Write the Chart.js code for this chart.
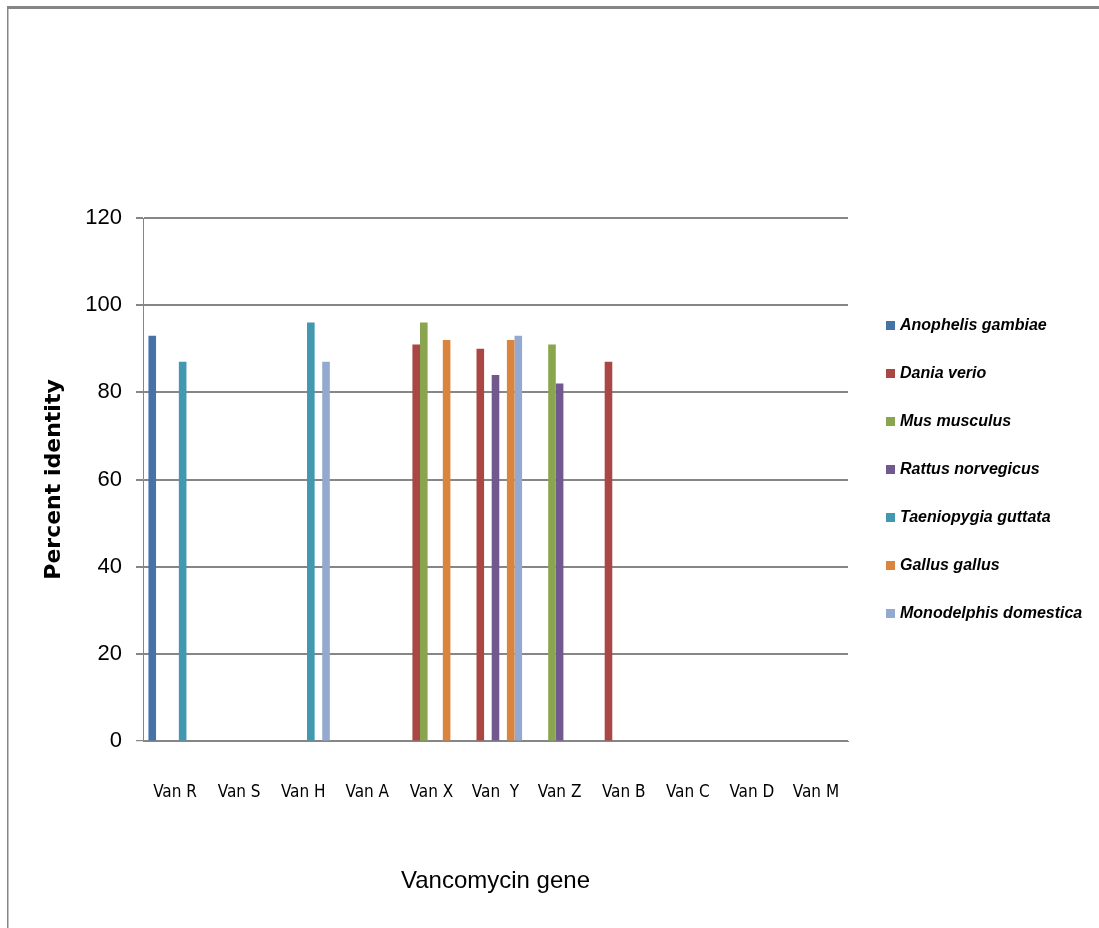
<!DOCTYPE html>
<html>
<head>
<meta charset="utf-8">
<title>Vancomycin gene – percent identity</title>
<script src="https://cdn.jsdelivr.net/npm/chart.js@4/dist/chart.umd.min.js"></script>
<style>
  html, body { margin: 0; padding: 0; background: #ffffff; }
  #wrap { position: relative; width: 1099px; height: 928px; }
  canvas { display: block; }
</style>
</head>
<body>
<div id="wrap"><canvas id="chart" width="1099" height="928"></canvas></div>
<script>
// Genes on the category axis
const genes = ['Van R', 'Van S', 'Van H', 'Van A', 'Van X', 'Van  Y', 'Van Z', 'Van B', 'Van C', 'Van D', 'Van M'];

// Percent identity per organism (null = no hit)
const anophelisGambiae    = [93, null, null, null, null, null, null, null, null, null, null];
const daniaVerio          = [null, null, null, null, 91, 90, null, 87, null, null, null];
const musMusculus         = [null, null, null, null, 96, null, 91, null, null, null, null];
const rattusNorvegicus    = [null, null, null, null, null, 84, 82, null, null, null, null];
const taeniopygiaGuttata  = [87, null, 96, null, null, null, null, null, null, null, null];
const gallusGallus        = [null, null, null, null, 92, 92, null, null, null, null, null];
const monodelphisDomestica= [null, null, 87, null, null, 93, null, null, null, null, null];

const seriesNames = ['Anophelis gambiae', 'Dania verio', 'Mus musculus', 'Rattus norvegicus',
                     'Taeniopygia guttata', 'Gallus gallus', 'Monodelphis domestica'];
const seriesValues = [anophelisGambiae, daniaVerio, musMusculus, rattusNorvegicus,
                      taeniopygiaGuttata, gallusGallus, monodelphisDomestica];
const seriesColors = ['#4572A7', '#AA4643', '#89A54E', '#71588F', '#4198AF', '#DB843D', '#93A9CF'];

// Y axis range
const yMin = 0, yMax = 120, yStep = 20;

const GRID = '#868686';

// Frame around the figure and the legend on the right
const framePlugin = {
  id: 'frame',
  beforeDraw(chart) {
    const ctx = chart.ctx;
    ctx.save();
    ctx.fillStyle = '#ffffff';
    ctx.fillRect(0, 0, chart.width, chart.height);
    ctx.fillStyle = GRID;
    ctx.fillRect(7, 6, chart.width - 7, 3);
    ctx.fillRect(7, 6, 1.5, chart.height - 6);
    ctx.restore();
  }
};

const sideLegend = {
  id: 'sideLegend',
  afterDraw(chart) {
    const ctx = chart.ctx;
    const area = chart.chartArea;
    const x0 = area.right + 38;
    const y0 = area.top + 108;
    const gap = 48;
    ctx.save();
    ctx.font = 'italic bold 16px "Liberation Sans", Arial, sans-serif';
    ctx.textBaseline = 'middle';
    ctx.textAlign = 'left';
    chart.data.datasets.forEach((ds, i) => {
      const y = y0 + i * gap;
      ctx.fillStyle = ds.backgroundColor;
      ctx.fillRect(x0, y - 5, 9, 9);
      ctx.fillStyle = '#000000';
      ctx.fillText(ds.label, x0 + 14, y);
    });
    ctx.restore();
  }
};

const datasets = seriesNames.map((name, i) => ({
  label: name,
  data: seriesValues[i],
  backgroundColor: seriesColors[i],
  borderWidth: 0,
  categoryPercentage: 0.83,
  barPercentage: 1.0
}));

new Chart(document.getElementById('chart'), {
  type: 'bar',
  data: { labels: genes, datasets },
  plugins: [framePlugin, sideLegend],
  options: {
    responsive: false,
    animation: false,
    devicePixelRatio: 1,
    layout: { padding: { left: 37, top: 218, right: 251, bottom: 28 } },
    plugins: {
      legend: { display: false },
      tooltip: { enabled: false }
    },
    scales: {
      x: {
        grid: { display: false, drawTicks: false },
        border: { display: true, color: GRID, width: 1 },
        ticks: {
          color: '#000000',
          padding: 41,
          maxRotation: 0,
          autoSkip: false,
          font: { family: '"Liberation Sans Narrow", "DejaVu Sans Condensed", sans-serif', size: 17 }
        },
        title: {
          display: true,
          text: 'Vancomycin gene',
          color: '#000000',
          padding: { top: 4, bottom: 4 },
          font: { family: '"Liberation Sans", Arial, sans-serif', size: 24 }
        },
        afterFit(scale) { scale.height = 159; }
      },
      y: {
        min: yMin,
        max: yMax,
        ticks: {
          stepSize: yStep,
          color: '#000000',
          padding: 14,
          font: { family: '"Liberation Sans", Arial, sans-serif', size: 22 }
        },
        grid: {
          color: GRID,
          lineWidth: (c) => (c.tick && c.tick.value === 0 ? 1.2 : 2),
          drawTicks: true,
          tickLength: 7
        },
        border: { display: true, color: GRID, width: 1 },
        title: {
          display: true,
          text: 'Percent identity',
          color: '#000000',
          padding: { top: 4, bottom: 4 },
          font: { family: '"DejaVu Sans", sans-serif', size: 22, weight: 'bold' }
        },
        afterFit(scale) { scale.width = 106; }
      }
    }
  }
});
</script>
</body>
</html>
